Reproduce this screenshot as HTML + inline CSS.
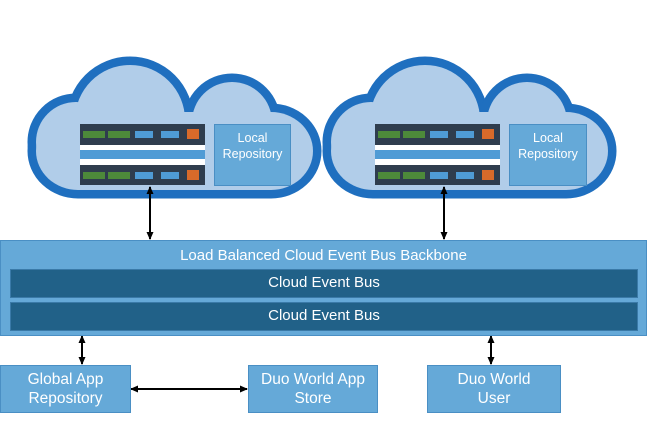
<!DOCTYPE html>
<html><head><style>
body{margin:0;width:647px;height:437px;background:#fff;position:relative;overflow:hidden;font-family:"Liberation Sans",sans-serif}
.abs{position:absolute}
.box{position:absolute;background:#65a9d8;border:1px solid #4a8fc4;color:#fff;text-align:center;box-sizing:border-box;display:flex;align-items:center;justify-content:center;line-height:1.25}
.srv{position:absolute;width:125px;height:61px;background:#fff}
.srv .d{position:absolute;left:0;width:125px;background:#2f3d4e}
.srv .b{position:absolute;left:0;top:26px;width:125px;height:9px;background:#4f9bd5}
.srv i{position:absolute;height:7px;display:block}
</style></head><body>
<svg class="abs" style="left:0;top:0" width="647" height="437">
<defs>
<g id="cl">
<circle cx="130" cy="120" r="55"/>
<circle cx="232" cy="122" r="40"/>
<circle cx="76" cy="142" r="40"/>
<rect x="36" y="112" width="277" height="78" rx="42"/>
</g>
<marker id="ah" markerWidth="8" markerHeight="8" refX="7" refY="4" orient="auto-start-reverse" markerUnits="userSpaceOnUse"><path d="M0,0.5 L8,4 L0,7.5z" fill="#000"/></marker>
</defs>
<g fill="#1f6fbf" stroke="#1f6fbf" stroke-width="17"><use href="#cl"/><use href="#cl" transform="translate(295,0)"/></g>
<g fill="#b1cde9"><use href="#cl"/><use href="#cl" transform="translate(295,0)"/></g>
<g stroke="#000" stroke-width="2" marker-start="url(#ah)" marker-end="url(#ah)">
<line x1="150" y1="187" x2="150" y2="239"/>
<line x1="444" y1="187" x2="444" y2="239"/>
<line x1="82" y1="336" x2="82" y2="364"/>
<line x1="491" y1="336" x2="491" y2="364"/>
<line x1="131" y1="389" x2="247" y2="389"/>
</g>
</svg>

<div class="srv" style="left:80px;top:124px"><div class="d" style="top:0;height:21px"></div><div class="b"></div><div class="d" style="top:41px;height:20px"></div>
<i style="left:3px;top:7px;width:22px;background:#4d8a3a"></i><i style="left:28px;top:7px;width:22px;background:#4d8a3a"></i><i style="left:55px;top:7px;width:18px;background:#4f9bd5"></i><i style="left:81px;top:7px;width:18px;background:#4f9bd5"></i><i style="left:107px;top:5px;width:12px;height:10px;background:#d86a2a"></i>
<i style="left:3px;top:48px;width:22px;background:#4d8a3a"></i><i style="left:28px;top:48px;width:22px;background:#4d8a3a"></i><i style="left:55px;top:48px;width:18px;background:#4f9bd5"></i><i style="left:81px;top:48px;width:18px;background:#4f9bd5"></i><i style="left:107px;top:46px;width:12px;height:10px;background:#d86a2a"></i></div>
<div class="srv" style="left:375px;top:124px"><div class="d" style="top:0;height:21px"></div><div class="b"></div><div class="d" style="top:41px;height:20px"></div>
<i style="left:3px;top:7px;width:22px;background:#4d8a3a"></i><i style="left:28px;top:7px;width:22px;background:#4d8a3a"></i><i style="left:55px;top:7px;width:18px;background:#4f9bd5"></i><i style="left:81px;top:7px;width:18px;background:#4f9bd5"></i><i style="left:107px;top:5px;width:12px;height:10px;background:#d86a2a"></i>
<i style="left:3px;top:48px;width:22px;background:#4d8a3a"></i><i style="left:28px;top:48px;width:22px;background:#4d8a3a"></i><i style="left:55px;top:48px;width:18px;background:#4f9bd5"></i><i style="left:81px;top:48px;width:18px;background:#4f9bd5"></i><i style="left:107px;top:46px;width:12px;height:10px;background:#d86a2a"></i></div>

<div class="box" style="left:214px;top:124px;width:77px;height:62px;font-size:12.5px;align-items:flex-start;padding-top:6px">Local<br>Repository</div>
<div class="box" style="left:509px;top:124px;width:78px;height:62px;font-size:12.5px;align-items:flex-start;padding-top:6px">Local<br>Repository</div>

<div class="box" style="left:0;top:240px;width:647px;height:96px;display:block"></div>
<div class="abs" style="left:0;top:247px;width:647px;text-align:center;color:#fff;font-size:15px">Load Balanced Cloud Event Bus Backbone</div>
<div class="box" style="left:10px;top:269px;width:628px;height:29px;background:#216188;border-color:#3a7aa8;font-size:15px">Cloud Event Bus</div>
<div class="box" style="left:10px;top:302px;width:628px;height:29px;background:#216188;border-color:#3a7aa8;font-size:15px">Cloud Event Bus</div>

<div class="box" style="left:0;top:365px;width:131px;height:48px;font-size:15.5px">Global App<br>Repository</div>
<div class="box" style="left:248px;top:365px;width:130px;height:48px;font-size:15.5px">Duo World App<br>Store</div>
<div class="box" style="left:427px;top:365px;width:134px;height:48px;font-size:15.5px">Duo World<br>User</div>
</body></html>
